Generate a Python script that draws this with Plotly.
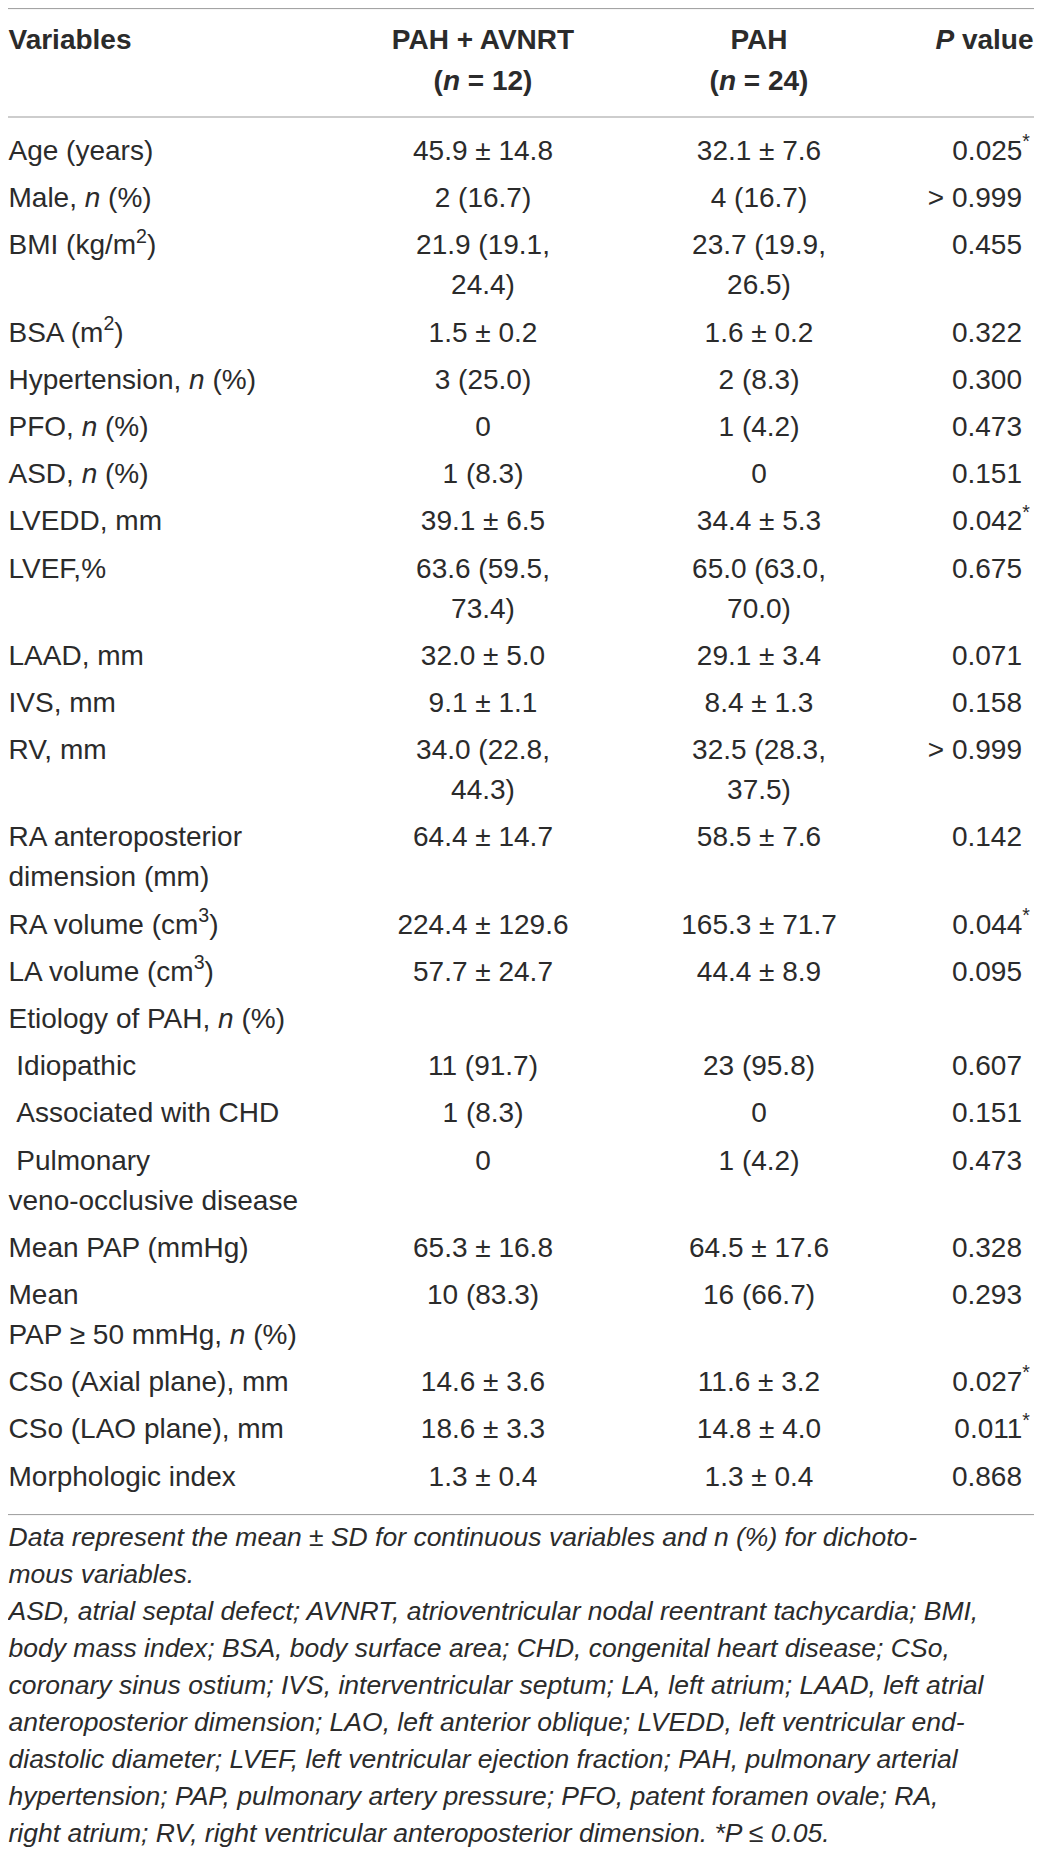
import plotly.graph_objects as go


# table content --------------------------------------------------------------------------------------------------------
header_top = ["Variables", "PAH + AVNRT", "PAH", "<i>P</i> value"]
header_sub = ["", "(<i>n</i> = 12)", "(<i>n</i> = 24)", ""]

variables = [
    "Age (years)", "Male, <i>n</i> (%)", "BMI (kg/m<sup>2</sup>)", "BSA (m<sup>2</sup>)",
    "Hypertension, <i>n</i> (%)", "PFO, <i>n</i> (%)", "ASD, <i>n</i> (%)", "LVEDD, mm", "LVEF,%",
    "LAAD, mm", "IVS, mm", "RV, mm", "RA anteroposterior<br>dimension (mm)", "RA volume (cm<sup>3</sup>)",
    "LA volume (cm<sup>3</sup>)", "Etiology of PAH, <i>n</i> (%)", "\u00a0Idiopathic", "\u00a0Associated with CHD",
    "\u00a0Pulmonary<br>veno-occlusive disease", "Mean PAP (mmHg)", "Mean<br>PAP \u2265 50 mmHg, <i>n</i> (%)",
    "CSo (Axial plane), mm", "CSo (LAO plane), mm", "Morphologic index",
]
pah_avnrt = [
    "45.9 ± 14.8", "2 (16.7)", "21.9 (19.1,<br>24.4)", "1.5 ± 0.2", "3 (25.0)", "0", "1 (8.3)", "39.1 ± 6.5",
    "63.6 (59.5,<br>73.4)", "32.0 ± 5.0", "9.1 ± 1.1", "34.0 (22.8,<br>44.3)", "64.4 ± 14.7", "224.4 ± 129.6",
    "57.7 ± 24.7", "", "11 (91.7)", "1 (8.3)", "0", "65.3 ± 16.8", "10 (83.3)", "14.6 ± 3.6", "18.6 ± 3.3",
    "1.3 ± 0.4",
]
pah = [
    "32.1 ± 7.6", "4 (16.7)", "23.7 (19.9,<br>26.5)", "1.6 ± 0.2", "2 (8.3)", "1 (4.2)", "0", "34.4 ± 5.3",
    "65.0 (63.0,<br>70.0)", "29.1 ± 3.4", "8.4 ± 1.3", "32.5 (28.3,<br>37.5)", "58.5 ± 7.6", "165.3 ± 71.7",
    "44.4 ± 8.9", "", "23 (95.8)", "0", "1 (4.2)", "64.5 ± 17.6", "16 (66.7)", "11.6 ± 3.2", "14.8 ± 4.0",
    "1.3 ± 0.4",
]
p_values = [
    "0.025*", "> 0.999", "0.455", "0.322", "0.300", "0.473", "0.151", "0.042*", "0.675", "0.071", "0.158",
    "> 0.999", "0.142", "0.044*", "0.095", "", "0.607", "0.151", "0.473", "0.328", "0.293", "0.027*", "0.011*",
    "0.868",
]

notes = [
    "Data represent the mean ± SD for continuous variables and n (%) for dichoto-",
    "mous variables.",
    "ASD, atrial septal defect; AVNRT, atrioventricular nodal reentrant tachycardia; BMI,",
    "body mass index; BSA, body surface area; CHD, congenital heart disease; CSo,",
    "coronary sinus ostium; IVS, interventricular septum; LA, left atrium; LAAD, left atrial",
    "anteroposterior dimension; LAO, left anterior oblique; LVEDD, left ventricular end-",
    "diastolic diameter; LVEF, left ventricular ejection fraction; PAH, pulmonary arterial",
    "hypertension; PAP, pulmonary artery pressure; PFO, patent foramen ovale; RA,",
    "right atrium; RV, right ventricular anteroposterior dimension. *P \u2264 0.05.",
]

# layout settings ------------------------------------------------------------------------------------------------------
PAGE_W, PAGE_H, BODY_MARGIN = 1042, 1860, 8   # the page body keeps its default 8px margin
FONT = "Liberation Sans, Arial, sans-serif"
SIZE, NOTE_SIZE = 28, 26.5
INK = "#2b2b2b"
RULE_COLOR = "#9b9b9b"

LEFT, RIGHT = 8.5, 1033.5
COL_CENTER = [483, 759]
P_EDGE, STAR_W = 1030, 8

TOP_RULE, HEAD_Y, HEAD_GAP, HEAD_RULE = 8.6, 42, 41, 117
FIRST_ROW, ROW, WRAP = 153, 47.2, 40
NOTE_RULE_GAP, NOTE_GAP, NOTE_STEP = 36, 25, 37

# row positions from the number of text lines in each row
row_y = []
y = FIRST_ROW
for cells in zip(variables, pah_avnrt, pah, p_values):
    row_y.append(y)
    n_lines = max(c.count("<br>") + 1 for c in cells)
    y += (n_lines - 1) * WRAP + ROW
last_line = y - ROW
bottom_rule = last_line + NOTE_RULE_GAP


def text_trace(xs, ys, texts, position, italic=False, bold=False, size=SIZE):
    return go.Scatter(
        x=xs, y=ys, text=texts, mode="text", textposition=position,
        textfont=dict(family=FONT, size=size, color=INK,
                      style="italic" if italic else "normal", weight="bold" if bold else "normal"),
        hoverinfo="skip", showlegend=False, cliponaxis=False,
    )


def column_lines(values, x_of):
    xs, ys, ts = [], [], []
    for v, y0 in zip(values, row_y):
        for k, part in enumerate(v.split("<br>")):
            if part:
                xs.append(x_of(v))
                ys.append(y0 + k * WRAP)
                ts.append(part.replace("*", "<sup>*</sup>"))
    return xs, ys, ts


fig = go.Figure()

# header
head_y = [HEAD_Y, HEAD_Y + HEAD_GAP]
fig.add_trace(text_trace([LEFT], [HEAD_Y], [header_top[0]], "middle right", bold=True))
for i, cx in enumerate(COL_CENTER):
    fig.add_trace(text_trace([cx, cx], head_y, [header_top[i + 1], header_sub[i + 1]], "middle center", bold=True))
fig.add_trace(text_trace([RIGHT], [HEAD_Y], [header_top[3]], "middle left", bold=True))

# body
fig.add_trace(text_trace(*column_lines(variables, lambda v: LEFT), "middle right"))
fig.add_trace(text_trace(*column_lines(pah_avnrt, lambda v: COL_CENTER[0]), "middle center"))
fig.add_trace(text_trace(*column_lines(pah, lambda v: COL_CENTER[1]), "middle center"))
fig.add_trace(text_trace(*column_lines(p_values, lambda v: P_EDGE if v.endswith("*") else P_EDGE - STAR_W),
                         "middle left"))

# footnote
note_y = [bottom_rule + NOTE_GAP + i * NOTE_STEP for i in range(len(notes))]
fig.add_trace(text_trace([LEFT] * len(notes), note_y, notes, "middle right", italic=True, size=NOTE_SIZE))

# rules
for ry in [TOP_RULE, HEAD_RULE, bottom_rule]:
    fig.add_shape(type="line", xref="x", yref="y", x0=LEFT - 1, x1=RIGHT + 1, y0=ry, y1=ry,
                  line=dict(color=RULE_COLOR, width=1))

# axes in page pixels, the figure sits inside the body margin
fig.update_layout(
    width=PAGE_W - 2 * BODY_MARGIN, height=PAGE_H - 2 * BODY_MARGIN,
    margin=dict(l=0, r=0, t=0, b=0),
    paper_bgcolor="white", plot_bgcolor="white",
    xaxis=dict(range=[BODY_MARGIN, PAGE_W - BODY_MARGIN], visible=False, fixedrange=True),
    yaxis=dict(range=[PAGE_H - BODY_MARGIN, BODY_MARGIN], visible=False, fixedrange=True),
)

fig.write_html("out.html")
